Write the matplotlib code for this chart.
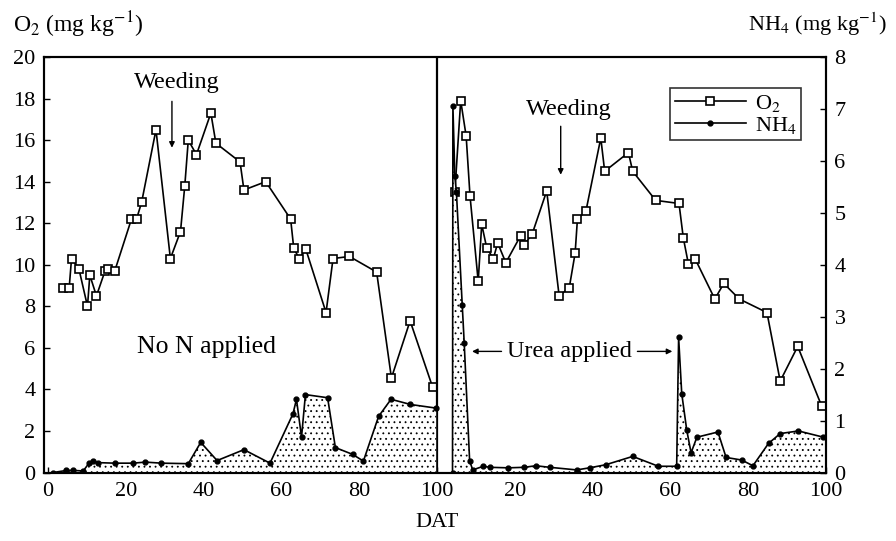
import numpy as np
import matplotlib as mpl
mpl.use('Agg')
import matplotlib.pyplot as plt

plt.rcParams['font.family'] = ['Liberation Serif', 'DejaVu Serif']
plt.rcParams['mathtext.fontset'] = 'stix'
plt.rcParams['hatch.linewidth'] = 0.6

# DAT values, left panel = no N applied, right panel = urea applied
o2_left_dat = [3.9, 5.5, 6.1, 8.0, 10.2, 10.8, 12.5, 14.7, 15.5, 17.2, 21.5, 22.8, 24.1, 27.8,
               31.5, 34.1, 35.2, 36.1, 38.2, 41.9, 43.2, 49.4, 50.4, 56.0, 62.4, 63.2, 64.6,
               66.3, 71.5, 73.3, 77.5, 84.5, 88.3, 93.1, 98.9]
o2_left = [8.9, 8.9, 10.3, 9.8, 8.0, 9.5, 8.5, 9.7, 9.8, 9.7, 12.2, 12.2, 13.0, 16.5,
           10.3, 11.6, 13.8, 16.0, 15.3, 17.3, 15.85, 14.95, 13.6, 14.0, 12.2, 10.8, 10.3,
           10.75, 7.7, 10.3, 10.4, 9.65, 4.55, 7.3, 4.1]

nh4_left_dat = [1.4, 4.8, 6.5, 9.1, 10.6, 11.5, 12.9, 17.2, 21.9, 25.1, 29.2, 36.1, 39.3, 43.5,
                50.4, 57.1, 63.0, 63.9, 65.2, 66.2, 71.9, 73.9, 78.3, 81.1, 85.0, 88.2, 93.2, 99.8]
nh4_left = [0.0, 0.04, 0.04, 0.03, 0.18, 0.22, 0.19, 0.18, 0.18, 0.2, 0.18, 0.17, 0.58, 0.23,
            0.44, 0.18, 1.13, 1.41, 0.68, 1.5, 1.44, 0.48, 0.35, 0.22, 1.08, 1.41, 1.31, 1.24]

o2_right_dat = [4.6, 6.1, 7.5, 8.5, 10.6, 11.5, 12.8, 14.5, 15.6, 17.7, 21.5, 22.4, 24.5, 28.2,
                31.4, 34.0, 35.5, 36.1, 38.3, 42.1, 43.1, 49.2, 50.3, 56.2, 62.2, 63.3, 64.6,
                66.3, 71.4, 73.7, 77.7, 84.8, 88.2, 92.7, 98.9]
o2_right = [13.5, 17.9, 16.2, 13.3, 9.2, 11.95, 10.8, 10.3, 11.05, 10.1, 11.4, 10.95, 11.5, 13.55,
            8.5, 8.9, 10.55, 12.2, 12.6, 16.1, 14.5, 15.4, 14.5, 13.1, 12.95, 11.3, 10.05,
            10.3, 8.35, 9.1, 8.35, 7.7, 4.4, 6.07, 3.18]

nh4_right_dat = [4.0, 4.1, 4.6, 5.0, 6.5, 7.0, 8.4, 9.2, 11.9, 13.6, 18.3, 22.4, 25.4, 29.0,
                 35.9, 39.2, 43.4, 50.3, 56.9, 61.6, 62.1, 62.9, 64.2, 65.3, 66.8, 72.2, 74.3,
                 78.3, 81.2, 85.2, 88.2, 92.9, 99.3]
nh4_right = [0.0, 7.05, 5.7, 5.4, 3.22, 2.5, 0.22, 0.05, 0.12, 0.1, 0.09, 0.1, 0.13, 0.1,
             0.05, 0.09, 0.15, 0.31, 0.12, 0.12, 2.6, 1.52, 0.81, 0.38, 0.68, 0.78, 0.29,
             0.24, 0.13, 0.56, 0.75, 0.8, 0.68]

xtick_pos = [0, 20, 40, 60, 80, 100, 120, 140, 160, 180, 200]
xtick_lab = ['0', '20', '40', '60', '80', '100', '20', '40', '60', '80', '100']

OFF = 100  # right panel drawn after the left one on a shared axis

fig = plt.figure(figsize=(8.96, 5.41), dpi=100)
ax = fig.add_axes([0.049, 0.1266, 0.873, 0.768])
ax2 = ax.twinx()

o2_kw = dict(color='k', lw=1.2, marker='s', ms=6, mfc='white', mec='k', mew=1.2)
nh4_kw = dict(color='k', lw=1.2, marker='o', ms=3.5, mfc='k', mec='k')

ax.plot(o2_left_dat, o2_left, **o2_kw)
ax.plot(np.array(o2_right_dat) + OFF, o2_right, **o2_kw)

for dd, vv in [(np.array(nh4_left_dat), nh4_left), (np.array(nh4_right_dat) + OFF, nh4_right)]:
    ax2.fill_between(dd, 0, vv, facecolor='white', edgecolor='k', hatch='...', lw=0)
    ax2.plot(dd, vv, **nh4_kw)

ax.axvline(OFF, color='k', lw=1.6)

ax.set_xlim(-1, 200)
ax.set_ylim(0, 20)
ax2.set_ylim(0, 8)
ax.set_xticks(xtick_pos)
ax.set_xticklabels(xtick_lab)
ax.set_yticks(range(0, 21, 2))
ax2.set_yticks(range(0, 9))
for a in (ax, ax2):
    a.tick_params(direction='in', length=4, width=1, labelsize=16, pad=6)
    for s in a.spines.values():
        s.set_linewidth(1.5)
ax.tick_params(axis='x', pad=7)

fig.text(0.014, 0.955, r'O$_2$ (mg kg$^{-1}$)', fontsize=17, ha='left', va='center')
fig.text(0.99, 0.955, r'NH$_4$ (mg kg$^{-1}$)', fontsize=16, ha='right', va='center')
fig.text(0.488, 0.035, 'DAT', fontsize=16, ha='center', va='center')

# annotations
ax.text(33.2, 18.75, 'Weeding', fontsize=17.5, ha='center', va='center')
ax.annotate('', xy=(31.9, 15.5), xytext=(31.9, 18.0),
            arrowprops=dict(arrowstyle='-|>', color='k', lw=1, mutation_scale=8))
ax.text(133.9, 17.45, 'Weeding', fontsize=17.5, ha='center', va='center')
ax.annotate('', xy=(131.8, 14.2), xytext=(131.8, 16.8),
            arrowprops=dict(arrowstyle='-|>', color='k', lw=1, mutation_scale=8))
ax.text(40.9, 6.04, 'No N applied', fontsize=18.5, ha='center', va='center')
ax.text(134.1, 5.83, 'Urea applied', fontsize=17.5, ha='center', va='center')
ax.annotate('', xy=(108.3, 5.83), xytext=(117.3, 5.83),
            arrowprops=dict(arrowstyle='-|>', color='k', lw=1, mutation_scale=8))
ax.annotate('', xy=(161.2, 5.83), xytext=(150.8, 5.83),
            arrowprops=dict(arrowstyle='-|>', color='k', lw=1, mutation_scale=8))

h1, = ax.plot([], [], **o2_kw)
h2, = ax.plot([], [], **nh4_kw)
leg = ax2.legend([h1, h2], [r'O$_2$', r'NH$_4$'], loc='upper right',
                 bbox_to_anchor=(0.968, 0.925), fontsize=16, frameon=True, fancybox=False,
                 edgecolor='k', handlelength=3.2, borderpad=0.2, labelspacing=0.05,
                 handletextpad=0.4, borderaxespad=0)
leg.get_frame().set_linewidth(1.2)

plt.savefig('out.png', dpi=100)
